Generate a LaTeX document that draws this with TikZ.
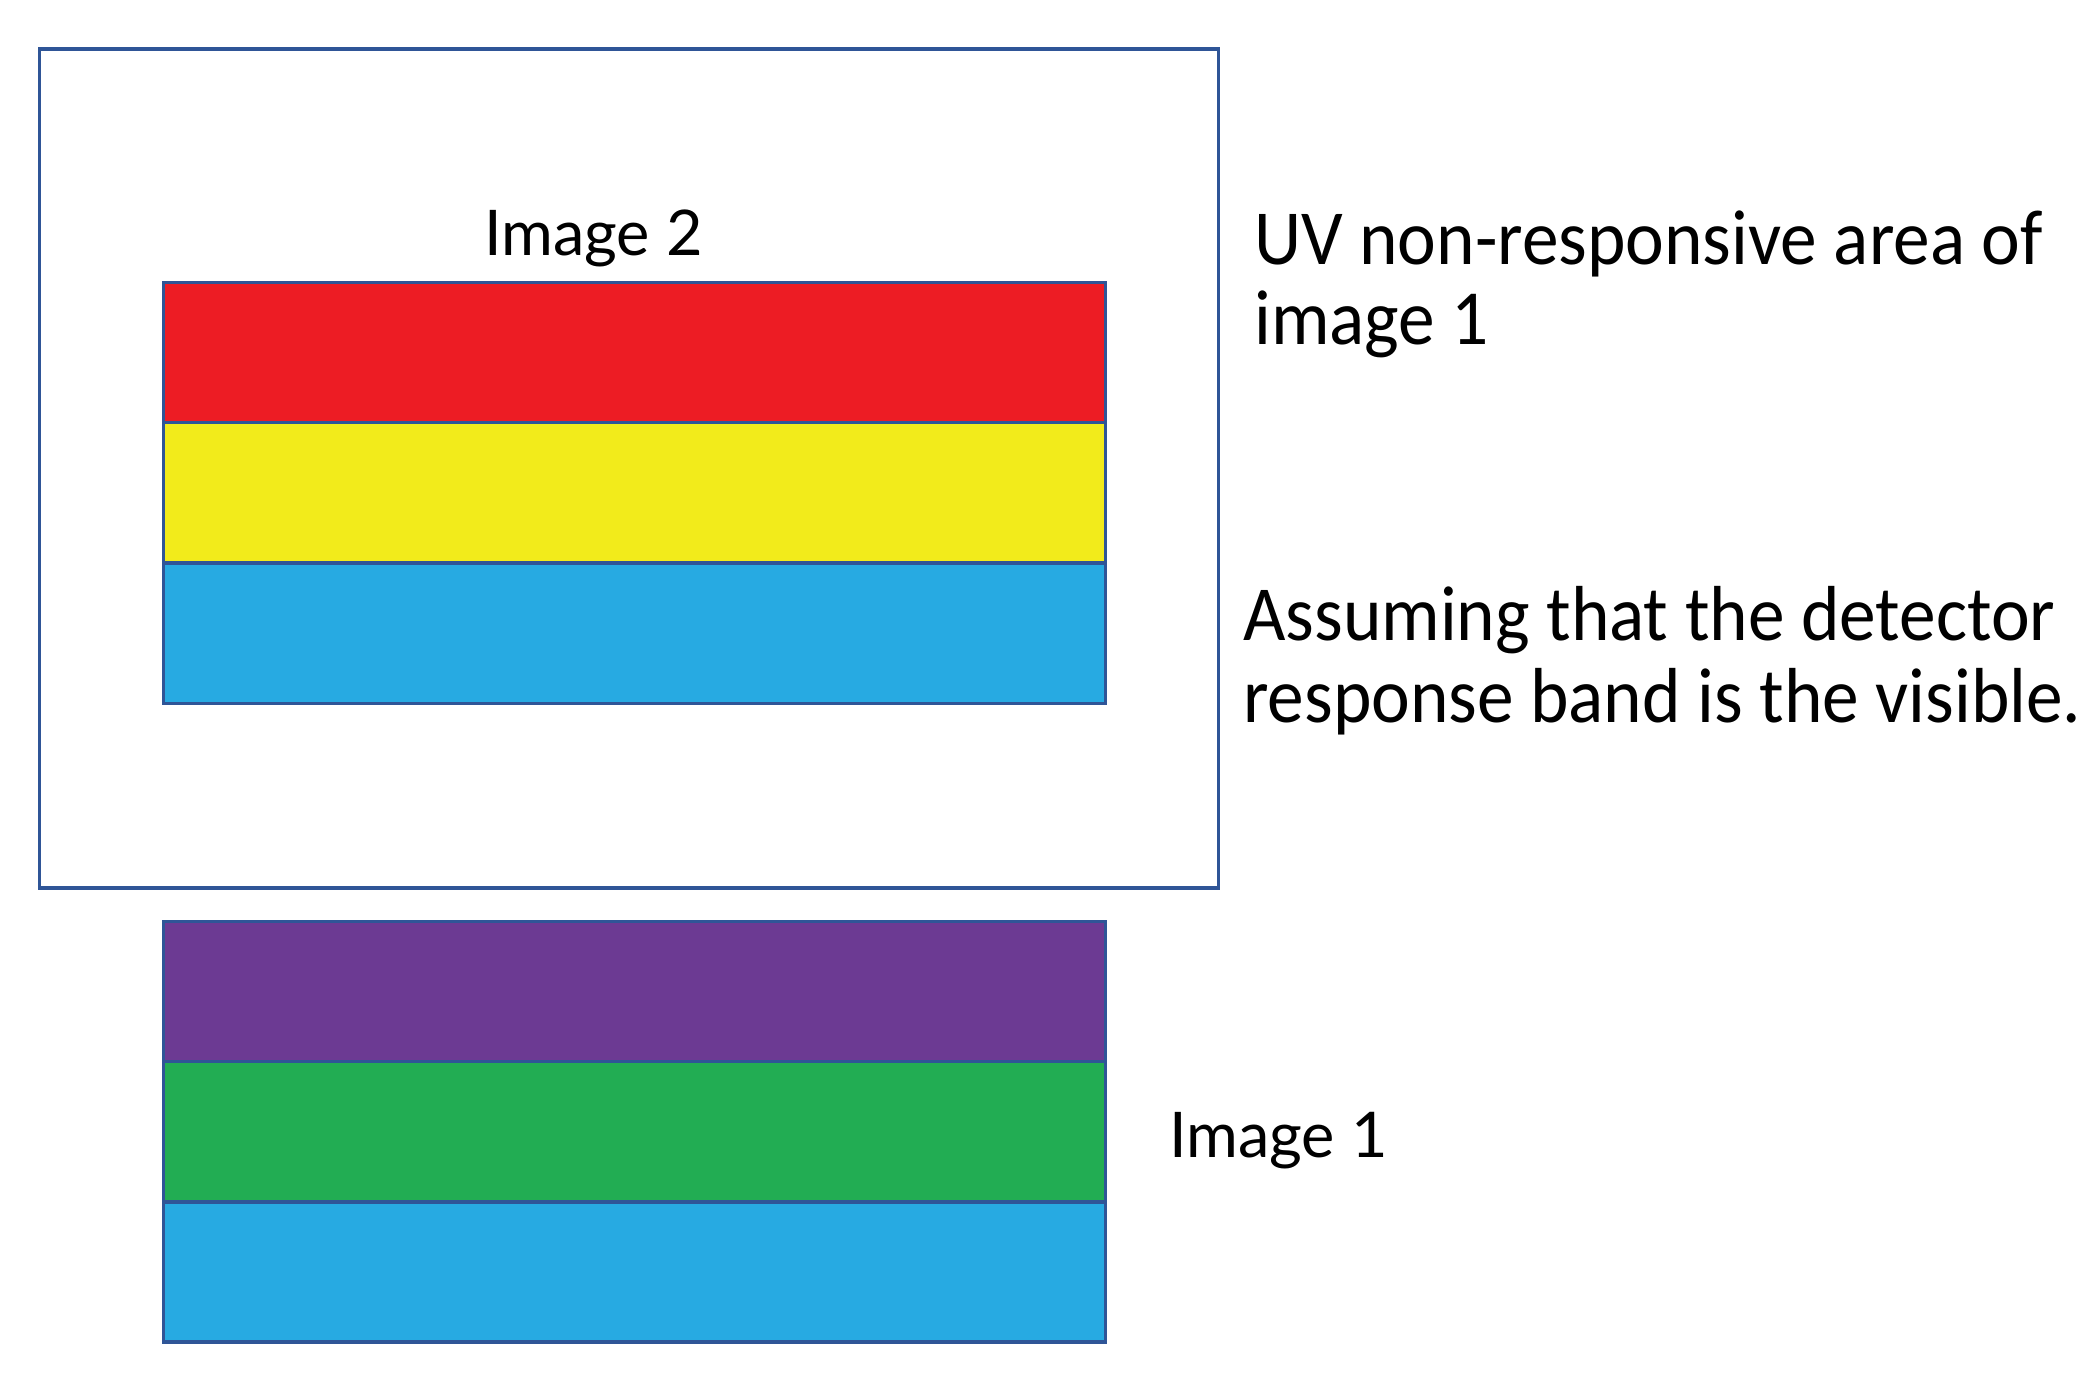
\documentclass[tikz,border=0pt]{standalone}
\usepackage{fontspec}
\setmainfont{Carlito}[FakeStretch=0.94]
\newfontfamily\labelfont{Lato}
\definecolor{edge}{HTML}{2F5597}
\definecolor{cred}{HTML}{ED1C24}
\definecolor{cyellow}{HTML}{F2EB1B}
\definecolor{cblue}{HTML}{27AAE2}
\definecolor{cpurple}{HTML}{6C3A93}
\definecolor{cgreen}{HTML}{22AD53}
\begin{document}
\begin{tikzpicture}[x=1pt,y=-1pt,
  stripe/.style={draw=edge, line width=3.5pt, rectangle, anchor=north west, inner sep=0pt,
    minimum width=942pt, minimum height=140pt},
  frame/.style={draw=edge, line width=3.5pt, rectangle, anchor=north west, inner sep=0pt,
    minimum width=1179pt, minimum height=839pt},
  lbl/.style={font=\labelfont\fontsize{63}{80}\selectfont, anchor=base west, inner sep=0pt},
  note/.style={font=\fontsize{78}{81}\selectfont, anchor=base west, inner sep=0pt, align=left}]
\useasboundingbox (0,0) rectangle (2092,1376);
\node[frame] (outer) at (37.5,47) {};
\node[stripe, fill=cred] (red) at (161.8,280.5) {};
\node[stripe, fill=cyellow] (yellow) at (161.8,420.5) {};
\node[stripe, fill=cblue] (blue2) at (161.8,561.5) {};
\node[stripe, fill=cpurple] (purple) at (161.8,919.5) {};
\node[stripe, fill=cgreen] (green) at (161.8,1059.5) {};
\node[stripe, fill=cblue] (blue1) at (161.8,1200) {};
\node[lbl] (img2) at (484,255) {Image 2};
\node[lbl] (img1) at (1169,1157) {Image 1};
\node[note] (uv1) at (1254,264) {UV non-responsive area of};
\node[note] (uv2) at (1254,344) {image 1};
\node[note] (as1) at (1243,640) {Assuming that the detector};
\node[note] (as2) at (1243,722) {response band is the visible.};
\end{tikzpicture}
\end{document}
